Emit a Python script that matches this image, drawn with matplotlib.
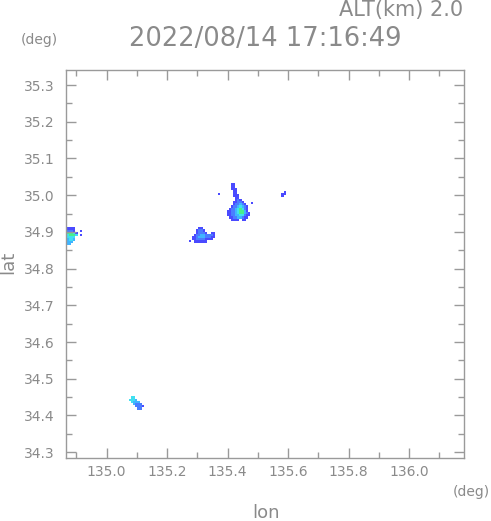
import numpy as np
import matplotlib
matplotlib.use("Agg")
import matplotlib.pyplot as plt
from matplotlib.colors import ListedColormap, BoundaryNorm
from matplotlib.ticker import MultipleLocator, FormatStrFormatter

# ---------------- data ----------------
title_text = "2022/08/14 17:16:49"
alt_text = "ALT(km) 2.0"
x_label = "lon"
y_label = "lat"
unit_label = "(deg)"

lon_range = [134.866, 136.181]
lat_range = [34.284, 35.341]
lon_ticks = [135.0, 135.2, 135.4, 135.6, 135.8, 136.0]
lat_ticks = [34.3, 34.4, 34.5, 34.6, 34.7, 34.8, 34.9, 35.0, 35.1, 35.2, 35.3]

# echo level colours (1 = weakest ... 5 = strongest)
level_colors = ["#4a4aff", "#4a7dff", "#40b4ff", "#40e0f0", "#48f08c"]

cell_dlon = 0.007
cell_dlat = 0.006

# Each blob: (west edge lon, north edge lat, rows of levels north->south)
blob_main_origin = (135.397, 35.032)
blob_main = [
    "..11.......",
    "..11.......",
    "..111......",
    "...11......",
    "...11......",
    "...111.....",
    "....11.....",
    "....121....",
    "...11221...",
    "...122321..",
    "..12234321.",
    ".122345421.",
    "1122345531.",
    "11223455321",
    "11223344211",
    ".112233211.",
    "..1111.11..",
]

blob_ne_origin = (135.578, 35.012)
blob_ne = [
    ".1",
    "11",
    "1.",
]

blob_mid_origin = (135.282, 34.913)
blob_mid = [
    "...11......",
    "..1221.....",
    "..12221..11",
    ".1223322221",
    "11233322211",
    "1122221111.",
    ".111111....",
]

blob_west_origin = (134.862, 34.912)
blob_west = [
    ".1111...",
    ".2221..1",
    ".55541..",
    ".45554.1",
    ".4444...",
    ".3443...",
    ".333....",
    ".33.....",
]

blob_sw_origin = (135.074, 34.452)
blob_sw = [
    ".44....",
    "4443...",
    ".4333..",
    "..3222.",
    "...2221",
    "....22.",
]

# isolated single echo cells: lon, lat, level
speck_lon = [135.371, 135.480, 135.275]
speck_lat = [35.003, 34.979, 34.875]
speck_level = [1, 1, 1]

# ---------------- figure ----------------
text_color = "#8a8a8a"
frame_color = "#9a9a9a"

fig = plt.figure(figsize=(4.91, 5.21), dpi=100)
ax = fig.add_axes([66 / 491, 1 - 458 / 521, (464 - 66) / 491, (458 - 70) / 521])

cmap = ListedColormap(level_colors)
norm = BoundaryNorm(np.arange(0.5, len(level_colors) + 1.5, 1), cmap.N)


def draw_blob(origin, rows):
    lon0, lat0 = origin
    arr = np.array([[0 if c == "." else int(c) for c in r] for r in rows], dtype=float)
    nr, nc = arr.shape
    lon_edges = lon0 + cell_dlon * np.arange(nc + 1)
    lat_edges = lat0 - cell_dlat * np.arange(nr + 1)
    data = np.ma.masked_equal(arr, 0)
    ax.pcolormesh(lon_edges, lat_edges, data, cmap=cmap, norm=norm,
                  shading="flat", edgecolors="none", antialiased=False)


for o, b in [(blob_main_origin, blob_main), (blob_ne_origin, blob_ne),
             (blob_mid_origin, blob_mid), (blob_west_origin, blob_west),
             (blob_sw_origin, blob_sw)]:
    draw_blob(o, b)

for lo, la, lv in zip(speck_lon, speck_lat, speck_level):
    draw_blob((lo - cell_dlon / 2, la + cell_dlat / 2), [str(lv)])

ax.set_xlim(lon_range)
ax.set_ylim(lat_range)
ax.set_xticks(lon_ticks)
ax.set_yticks(lat_ticks)
ax.xaxis.set_minor_locator(MultipleLocator(0.1))
ax.yaxis.set_minor_locator(MultipleLocator(0.05))
ax.xaxis.set_major_formatter(FormatStrFormatter("%.1f"))
ax.yaxis.set_major_formatter(FormatStrFormatter("%.1f"))

ax.tick_params(which="both", direction="in", top=True, right=True,
               color=frame_color, labelcolor=text_color, labelsize=10)
ax.tick_params(axis="y", which="both", pad=8)
ax.tick_params(axis="x", which="both", pad=5)
ax.tick_params(which="major", length=7, width=1)
ax.tick_params(which="minor", length=4, width=1)
for s in ax.spines.values():
    s.set_color(frame_color)
    s.set_linewidth(1)

# texts
fig.text(463 / 491, 1 - 10 / 521, alt_text, ha="right", va="center",
         fontsize=15, color=text_color)
fig.text(265 / 491, 1 - 39 / 521, title_text, ha="center", va="center",
         fontsize=18.5, color=text_color)
fig.text(39 / 491, 1 - 40 / 521, unit_label, ha="center", va="center",
         fontsize=10, color=text_color)
fig.text(471 / 491, 1 - 492 / 521, unit_label, ha="center", va="center",
         fontsize=10, color=text_color)
fig.text(266 / 491, 1 - 513 / 521, x_label, ha="center", va="center",
         fontsize=13, color=text_color)
fig.text(8 / 491, 1 - 262 / 521, y_label, ha="center", va="center",
         fontsize=13, color=text_color, rotation=90)

fig.savefig("out.png", dpi=100)
